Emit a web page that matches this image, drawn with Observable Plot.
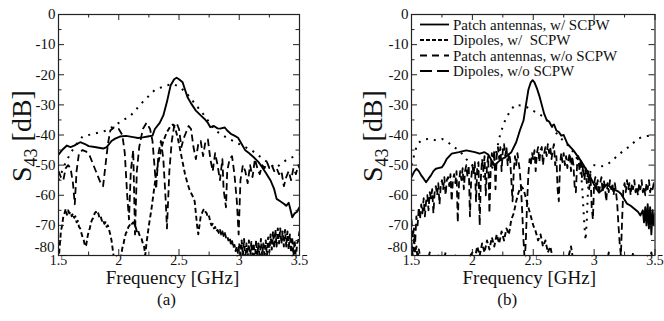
<!DOCTYPE html>
<html><head><meta charset="utf-8">
<script src="https://cdn.jsdelivr.net/npm/d3@7"></script>
<script src="https://cdn.jsdelivr.net/npm/@observablehq/plot@0.6"></script>
<style>
body{margin:0;background:#fff;}
#wrap{position:relative;width:664px;height:321px;overflow:hidden;background:#fff;}
#pa{position:absolute;left:0;top:0;}
#pb{position:absolute;left:332px;top:0;}
#wrap svg text, #wrap svg tspan{font-family:"Liberation Serif","Times New Roman",serif !important;}
</style></head><body><div id="wrap"><div id="pa"></div><div id="pb"></div></div>
<script>
const FONT = "Liberation Serif, Times New Roman, serif";
const xTicks = [1.5, 2, 2.5, 3, 3.5];
const xMinor = [1.75, 2.25, 2.75, 3.25];
const yTicks = [0, -10, -20, -30, -40, -50, -60, -70];
const yBottomTick = [-80];
const yMinor = [-5, -15, -25, -35, -45, -55, -65, -75];
const xLabel = "Frequency [GHz]";
const panelLabels = ["(a)", "(b)"];
const seriesNames = ["Patch antennas, w/ SCPW", "Dipoles, w/  SCPW", "Patch antennas, w/o SCPW", "Dipoles, w/o SCPW"];

// ---- Panel (a) ----
const patchWithA = [[1.50,-46.5],[1.53,-45],[1.57,-43.5],[1.60,-44],[1.63,-43.5],[1.68,-42.4],[1.72,-43],[1.75,-43.7],[1.80,-44],[1.87,-44.5],[1.90,-44],[1.94,-42],[1.97,-41.2],[2.01,-40.5],[2.06,-40.3],[2.12,-40.7],[2.16,-41],[2.20,-40.8],[2.24,-40.5],[2.28,-40.2],[2.30,-38],[2.34,-36],[2.37,-33.5],[2.40,-29],[2.43,-23.6],[2.46,-21.5],[2.48,-21],[2.50,-21.5],[2.53,-22.5],[2.55,-25],[2.57,-27.4],[2.60,-29.5],[2.64,-31.9],[2.68,-33.5],[2.71,-34.6],[2.74,-36],[2.76,-37.4],[2.79,-37],[2.82,-37.8],[2.84,-37.9],[2.88,-37.5],[2.90,-38.5],[2.93,-39.6],[2.96,-40.2],[2.99,-40.9],[3.02,-43],[3.05,-45.1],[3.08,-46],[3.12,-47.4],[3.16,-49],[3.19,-50.7],[3.22,-52.5],[3.26,-55.1],[3.29,-58],[3.31,-61.2],[3.34,-62],[3.37,-62.8],[3.39,-63.5],[3.41,-62.5],[3.42,-64],[3.44,-67.3],[3.46,-66],[3.48,-65.5],[3.50,-64]];
const dipolesWithA = [[1.50,-55],[1.55,-50],[1.60,-46],[1.65,-43],[1.70,-40.5],[1.80,-39.5],[1.90,-38.5],[2.00,-36],[2.10,-33.5],[2.20,-29],[2.30,-25],[2.40,-23.5],[2.45,-23],[2.50,-24],[2.55,-25.5],[2.60,-28],[2.70,-33],[2.80,-38.5],[2.90,-41],[3.00,-43],[3.10,-45],[3.20,-48],[3.30,-51],[3.40,-48],[3.50,-46.5]];
const patchWoA = [[1.50,-52],[1.52,-54],[1.54,-55],[1.56,-51],[1.58,-50],[1.60,-51],[1.62,-56],[1.635,-63],[1.65,-52],[1.67,-46],[1.70,-45],[1.73,-45.5],[1.76,-47],[1.79,-50],[1.82,-53],[1.85,-56],[1.87,-57],[1.89,-50],[1.91,-43],[1.93,-38.5],[1.96,-37.5],[2.00,-38],[2.03,-40],[2.05,-46],[2.07,-60],[2.085,-68],[2.10,-52],[2.12,-45],[2.135,-73],[2.15,-52],[2.17,-44],[2.20,-38],[2.23,-36],[2.26,-38],[2.28,-42],[2.30,-52],[2.31,-58],[2.33,-46],[2.35,-42],[2.37,-48],[2.39,-62],[2.40,-71],[2.42,-52],[2.44,-42],[2.46,-37],[2.48,-36],[2.50,-38],[2.52,-44],[2.54,-41],[2.56,-39],[2.58,-37],[2.60,-38],[2.62,-44],[2.64,-48],[2.66,-43],[2.68,-42],[2.70,-47],[2.72,-42],[2.74,-41.5],[2.76,-48],[2.78,-52],[2.80,-46],[2.82,-50],[2.84,-55],[2.86,-48],[2.87,-58],[2.89,-64],[2.90,-52],[2.92,-48],[2.94,-47],[2.96,-53],[2.98,-62],[2.995,-73],[3.01,-55],[3.03,-50],[3.05,-52],[3.07,-56],[3.09,-50],[3.11,-54],[3.13,-48],[3.15,-51],[3.17,-53],[3.19,-50],[3.21,-51],[3.23,-49],[3.25,-51],[3.27,-50],[3.29,-52],[3.31,-51],[3.33,-53],[3.35,-52],[3.37,-57],[3.39,-54],[3.41,-52],[3.43,-55],[3.45,-51],[3.47,-53],[3.49,-50],[3.50,-51]];
const dipolesWoA = [[1.50,-82],[1.51,-77],[1.52,-72],[1.53,-70],[1.54,-67],[1.55,-66],[1.56,-64.5],[1.57,-66.5],[1.58,-65],[1.59,-66],[1.60,-65.5],[1.61,-67],[1.62,-66],[1.63,-67.5],[1.64,-67],[1.65,-69],[1.66,-68.5],[1.67,-70.5],[1.68,-71],[1.69,-72.5],[1.70,-74],[1.71,-75],[1.72,-77],[1.73,-76.5],[1.74,-74],[1.75,-72],[1.76,-71],[1.77,-69],[1.78,-68],[1.79,-67.5],[1.80,-66],[1.81,-65.5],[1.82,-66.5],[1.83,-66],[1.84,-67.5],[1.85,-67],[1.86,-68.5],[1.87,-68],[1.88,-69.5],[1.89,-69],[1.90,-70.5],[1.91,-70],[1.92,-71.5],[1.93,-73],[1.94,-75],[1.95,-78],[1.96,-81],[1.97,-84],[2.00,-83],[2.02,-80],[2.03,-77.5],[2.04,-76],[2.05,-74],[2.06,-72.5],[2.07,-72],[2.08,-70.5],[2.09,-70],[2.10,-69],[2.11,-69.5],[2.12,-69],[2.13,-70],[2.14,-70.5],[2.15,-72],[2.16,-71.5],[2.17,-73],[2.18,-74],[2.19,-74.5],[2.20,-76],[2.21,-77],[2.22,-80],[2.23,-76],[2.25,-70],[2.27,-65],[2.29,-59],[2.31,-53],[2.33,-49],[2.35,-45],[2.37,-42],[2.40,-39],[2.43,-37],[2.45,-36.5],[2.47,-38],[2.49,-41],[2.51,-45],[2.53,-49],[2.55,-53],[2.57,-56],[2.59,-58.5],[2.61,-60],[2.63,-62],[2.64,-66],[2.65,-70],[2.66,-73],[2.67,-70],[2.68,-67],[2.69,-66],[2.70,-65],[2.71,-64.5],[2.72,-65.5],[2.73,-66],[2.74,-67.5],[2.75,-67],[2.76,-69],[2.77,-70],[2.78,-69.5],[2.79,-71],[2.80,-70.5],[2.81,-72],[2.82,-71.5],[2.83,-72.5],[2.84,-71.5],[2.85,-73],[2.86,-72],[2.87,-73.5],[2.88,-72.5],[2.89,-74],[2.90,-73.5],[2.91,-75],[2.92,-74],[2.93,-76],[2.94,-75],[2.95,-77.5],[2.96,-76.5],[2.97,-78.5],[2.98,-77],[2.99,-79.5],[3.00,-76],[3.01,-81],[3.02,-75],[3.03,-80],[3.04,-74.5],[3.05,-81],[3.06,-76],[3.07,-80.5],[3.08,-75],[3.09,-81],[3.10,-75.5],[3.11,-80],[3.12,-76],[3.13,-82],[3.14,-75],[3.15,-80],[3.16,-76],[3.17,-81],[3.18,-74.5],[3.19,-80],[3.20,-76],[3.21,-81],[3.22,-75],[3.23,-80],[3.24,-74],[3.25,-79],[3.26,-73],[3.27,-78],[3.28,-72],[3.29,-77.5],[3.30,-71.5],[3.31,-77],[3.32,-71],[3.33,-76],[3.34,-71],[3.35,-76],[3.36,-72],[3.37,-77],[3.38,-71.5],[3.39,-77],[3.40,-72],[3.41,-78],[3.42,-73],[3.43,-79],[3.44,-74],[3.45,-80],[3.46,-75],[3.47,-81],[3.48,-76],[3.49,-75],[3.50,-72]];

// ---- Panel (b) ----
const patchWithB = [[1.50,-54],[1.52,-52.3],[1.54,-51.2],[1.56,-52],[1.58,-53.4],[1.60,-54.5],[1.62,-55.7],[1.64,-54.5],[1.66,-53.4],[1.68,-52],[1.70,-51.2],[1.72,-51],[1.75,-50.7],[1.77,-49.5],[1.79,-47.9],[1.83,-46.2],[1.89,-45.7],[1.95,-45.1],[2.02,-45.7],[2.06,-46.2],[2.10,-45.7],[2.13,-46.5],[2.15,-47.9],[2.17,-49.5],[2.19,-49.8],[2.21,-49],[2.24,-48],[2.27,-47.4],[2.32,-45.7],[2.36,-42.4],[2.39,-38.5],[2.42,-35.2],[2.44,-30],[2.46,-25],[2.48,-22.5],[2.495,-21.8],[2.51,-22.5],[2.53,-24.5],[2.55,-27],[2.57,-30],[2.59,-33],[2.61,-35],[2.63,-35.5],[2.65,-37],[2.67,-36.5],[2.69,-38.5],[2.71,-39],[2.73,-40.2],[2.75,-40],[2.78,-42.9],[2.83,-45.1],[2.89,-48.5],[2.94,-51.8],[2.99,-55.7],[3.02,-58],[3.04,-59],[3.06,-58.5],[3.08,-57.5],[3.10,-56.5],[3.12,-56.8],[3.15,-58],[3.18,-58.4],[3.20,-58.8],[3.22,-59.5],[3.25,-61.5],[3.27,-62.8],[3.30,-63.5],[3.33,-64.5],[3.36,-65.5],[3.38,-66.7],[3.40,-65],[3.41,-69],[3.42,-64],[3.43,-70],[3.44,-63],[3.45,-71],[3.46,-64],[3.47,-73],[3.48,-65],[3.49,-70],[3.50,-66]];
const dipolesWithB = [[1.50,-50],[1.52,-47],[1.54,-44],[1.56,-42.5],[1.60,-41.5],[1.65,-41.2],[1.70,-41.8],[1.75,-41.3],[1.80,-42.4],[1.85,-44],[1.90,-45.5],[1.95,-48],[2.00,-50],[2.05,-52],[2.10,-54],[2.14,-54],[2.17,-50],[2.20,-45],[2.23,-39.5],[2.27,-35],[2.31,-32],[2.35,-30],[2.40,-30.2],[2.45,-30.8],[2.50,-32],[2.55,-33],[2.60,-34.5],[2.65,-37],[2.70,-40],[2.75,-42],[2.80,-44],[2.85,-47],[2.88,-50],[2.90,-56],[2.91,-63],[2.92,-70],[2.93,-75],[2.94,-68],[2.95,-58],[2.97,-52],[3.00,-50],[3.05,-50.5],[3.10,-50],[3.15,-48.5],[3.20,-46.5],[3.25,-45],[3.30,-43.5],[3.35,-41.5],[3.40,-40.5],[3.45,-40.3],[3.50,-40]];
const patchWoB = [[1.50,-68],[1.51,-74],[1.52,-71],[1.53,-76],[1.54,-67],[1.55,-70],[1.56,-64],[1.57,-68],[1.58,-63],[1.59,-66],[1.60,-61],[1.61,-67],[1.62,-62],[1.63,-60],[1.64,-65],[1.65,-59],[1.66,-61],[1.67,-58],[1.68,-66],[1.69,-59],[1.70,-57],[1.71,-60],[1.72,-56],[1.73,-63],[1.74,-57],[1.75,-55],[1.76,-58],[1.77,-54],[1.78,-60],[1.79,-55],[1.80,-54],[1.81,-57],[1.82,-53],[1.83,-62],[1.84,-55],[1.85,-53],[1.86,-56],[1.87,-52],[1.88,-69],[1.89,-56],[1.90,-52],[1.91,-55],[1.92,-51],[1.93,-58],[1.94,-52],[1.95,-50],[1.96,-54],[1.97,-50],[1.98,-67],[1.99,-55],[2.00,-50],[2.01,-53],[2.02,-49],[2.03,-62],[2.04,-51],[2.05,-49],[2.06,-70],[2.07,-54],[2.08,-48],[2.09,-52],[2.10,-47],[2.11,-60],[2.12,-50],[2.13,-47],[2.14,-66],[2.15,-52],[2.16,-46],[2.17,-50],[2.18,-45],[2.19,-58],[2.20,-47],[2.21,-44],[2.22,-48],[2.23,-44],[2.24,-52],[2.25,-45],[2.26,-43],[2.27,-47],[2.28,-44],[2.29,-50],[2.30,-46],[2.31,-48],[2.32,-55],[2.33,-62],[2.34,-52],[2.35,-47],[2.36,-50],[2.37,-46],[2.38,-49],[2.39,-52],[2.40,-58],[2.41,-66],[2.42,-75],[2.43,-82],[2.44,-74],[2.45,-62],[2.46,-53],[2.47,-48],[2.48,-50],[2.49,-46],[2.50,-48],[2.51,-45],[2.52,-52],[2.53,-46],[2.54,-44],[2.55,-49],[2.56,-45],[2.57,-44],[2.58,-50],[2.59,-46],[2.60,-44],[2.61,-47],[2.62,-43],[2.63,-46],[2.64,-44],[2.65,-48],[2.66,-45],[2.67,-43],[2.68,-50],[2.69,-47],[2.70,-58],[2.71,-62],[2.72,-50],[2.73,-46],[2.74,-49],[2.75,-46],[2.76,-50],[2.77,-47],[2.78,-51],[2.79,-48],[2.80,-46],[2.81,-52],[2.82,-47],[2.83,-50],[2.84,-57],[2.85,-59],[2.86,-50],[2.87,-47],[2.88,-52],[2.89,-48],[2.90,-54],[2.91,-50],[2.92,-55],[2.93,-51],[2.94,-56],[2.95,-52],[2.96,-58],[2.97,-53],[2.98,-64],[2.99,-68],[3.00,-56],[3.01,-54],[3.02,-58],[3.03,-55],[3.04,-60],[3.05,-56],[3.06,-54],[3.07,-59],[3.08,-55],[3.09,-58],[3.10,-62],[3.11,-56],[3.12,-59],[3.13,-55],[3.14,-58],[3.15,-56],[3.16,-60],[3.17,-56],[3.18,-59],[3.19,-63],[3.20,-70],[3.21,-76],[3.22,-80],[3.23,-68],[3.24,-58],[3.25,-56],[3.26,-59],[3.27,-55],[3.28,-58],[3.29,-56],[3.30,-60],[3.31,-56],[3.32,-58],[3.33,-55],[3.34,-59],[3.35,-57],[3.36,-60],[3.37,-56],[3.38,-58],[3.39,-55],[3.40,-59],[3.41,-57],[3.42,-60],[3.43,-56],[3.44,-58],[3.45,-55],[3.46,-59],[3.47,-57],[3.48,-58],[3.49,-56],[3.50,-57]];
const dipolesWoB = [[1.50,-76],[1.51,-80],[1.52,-74],[1.53,-79],[1.54,-77],[1.55,-81],[1.56,-78],[1.58,-82],[1.62,-84],[1.65,-79],[1.67,-84],[1.72,-80],[1.75,-84],[1.78,-79],[1.80,-84],[1.86,-80],[1.88,-84],[1.95,-82],[2.00,-79],[2.02,-81],[2.04,-77],[2.06,-80],[2.08,-76],[2.10,-79],[2.12,-75],[2.14,-78],[2.16,-74],[2.18,-77],[2.20,-73],[2.22,-76],[2.24,-72],[2.26,-75],[2.28,-71],[2.30,-73],[2.32,-68],[2.34,-66],[2.36,-62],[2.38,-59],[2.40,-57],[2.42,-58],[2.44,-61],[2.46,-64],[2.48,-67],[2.50,-70],[2.52,-72],[2.54,-75],[2.56,-73],[2.58,-77],[2.60,-75],[2.62,-79],[2.64,-77],[2.66,-81],[2.68,-84],[2.78,-82],[2.81,-77],[2.83,-82],[2.94,-80],[2.96,-84],[3.10,-84],[3.12,-79],[3.14,-84],[3.30,-84],[3.32,-79],[3.34,-84],[3.45,-84],[3.47,-79],[3.49,-84]];

const lineStyles = [
  {w: 1.9, dash: null, cap: "round"},
  {w: 2.0, dash: "2,6", cap: "butt"},
  {w: 1.8, dash: "7,4", cap: "butt"},
  {w: 1.9, dash: "5,3", cap: "butt"}
];
const legendDash = [null, "4,2", "7,5", "12,5"];

function panel({series, ml, mr, label, capDx, xlDx, ylX}) {
  const H = 321, W = 332, mt = 14, mb = 66;
  const fw = W - ml - mr, fh = H - mt - mb;
  const marks = [];
  series.forEach((s, i) => {
    marks.push(Plot.line(s, {x: d => d[0], y: d => d[1], stroke: "black",
      strokeWidth: lineStyles[i].w, strokeDasharray: lineStyles[i].dash,
      strokeLinecap: lineStyles[i].cap, clip: true}));
  });
  marks.push(Plot.frame({stroke: "#222", strokeWidth: 1.2}));
  marks.push(Plot.tickX(xTicks, {x: d => d, insetTop: fh - 6, stroke: "#222"}));
  marks.push(Plot.tickX(xTicks, {x: d => d, insetBottom: fh - 6, stroke: "#222"}));
  marks.push(Plot.tickX(xMinor, {x: d => d, insetTop: fh - 3.5, stroke: "#222"}));
  marks.push(Plot.tickX(xMinor, {x: d => d, insetBottom: fh - 3.5, stroke: "#222"}));
  marks.push(Plot.tickY(yTicks.concat(yBottomTick), {y: d => d, insetRight: fw - 6, stroke: "#222"}));
  marks.push(Plot.tickY(yTicks.concat(yBottomTick), {y: d => d, insetLeft: fw - 6, stroke: "#222"}));
  marks.push(Plot.tickY(yMinor, {y: d => d, insetRight: fw - 3.5, stroke: "#222"}));
  marks.push(Plot.tickY(yMinor, {y: d => d, insetLeft: fw - 3.5, stroke: "#222"}));
  marks.push(Plot.text(xTicks, {x: d => d, frameAnchor: "bottom", dy: 9, text: d => String(d),
    fontSize: 14, fontFamily: FONT, fill: "#111"}));
  marks.push(Plot.text(yTicks, {y: d => d, frameAnchor: "left", dx: -3, textAnchor: "end", text: d => String(d),
    fontSize: 15, fontFamily: FONT, fill: "#111"}));
  marks.push(Plot.text(yBottomTick, {y: d => d, frameAnchor: "left", dx: -4, dy: -8, textAnchor: "end", text: d => String(d),
    fontSize: 15, fontFamily: FONT, fill: "#111"}));
  marks.push(Plot.text([xLabel], {frameAnchor: "bottom", dy: 28, dx: xlDx, text: d => d,
    fontSize: 19, fontFamily: FONT, fill: "#111"}));
  marks.push(Plot.text([label], {frameAnchor: "bottom", dy: 49.5, dx: capDx, text: d => d,
    fontSize: 17, fontFamily: FONT, fill: "#111"}));
  const svg = Plot.plot({
    width: W, height: H, marginLeft: ml, marginRight: mr, marginTop: mt, marginBottom: mb,
    x: {domain: [1.5, 3.5], axis: null},
    y: {domain: [-80, 0], axis: null},
    style: {background: "white", overflow: "visible"},
    marks
  });
  const t = d3.select(svg).append("text")
    .attr("transform", `translate(${ylX},136) rotate(-90)`)
    .attr("text-anchor", "middle").attr("dy", "0.35em")
    .attr("font-size", 28).attr("fill", "#111");
  t.append("tspan").text("S");
  t.append("tspan").attr("font-size", 18).attr("dy", 6).text("43");
  t.append("tspan").attr("dy", -6).text(" [dB]");
  return svg;
}

const svgA = panel({series: [patchWithA, dipolesWithA, patchWoA, dipolesWoA], ml: 58, mr: 33, label: panelLabels[0], capDx: -12.5, xlDx: -6.5, ylX: 21});
const svgB = panel({series: [patchWithB, dipolesWithB, patchWoB, dipolesWoB], ml: 79, mr: 9.5, label: panelLabels[1], capDx: -26, xlDx: -4, ylX: 40});

const lg = d3.select(svgB).append("g").attr("font-size", 15).attr("fill", "#111").attr("text-anchor", "start");
seriesNames.forEach((name, i) => {
  const y = 24.5 + i * 15.5;
  lg.append("line").attr("x1", 88).attr("x2", 117).attr("y1", y).attr("y2", y)
    .attr("stroke", "black").attr("stroke-width", 1.8)
    .attr("stroke-dasharray", legendDash[i]);
  lg.append("text").attr("x", 121).attr("y", y).attr("dy", "0.35em")
    .attr("text-anchor", "start").style("white-space", "pre").text(name);
});

document.getElementById("pa").appendChild(svgA);
document.getElementById("pb").appendChild(svgB);
</script></body></html>
